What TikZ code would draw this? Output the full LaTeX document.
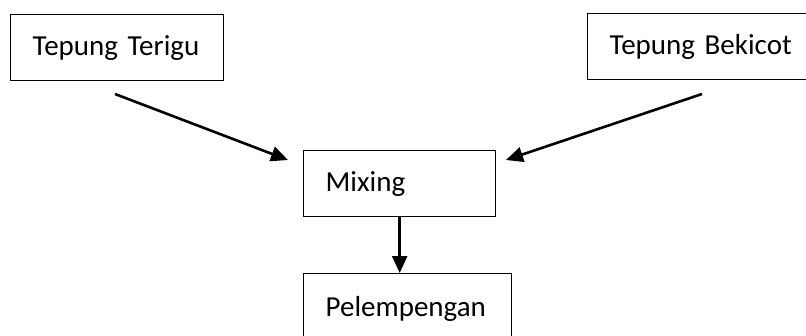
\documentclass[tikz,border=0pt]{standalone}
\usepackage{fontspec}
\setmainfont{Carlito}
\usetikzlibrary{arrows.meta}
\begin{document}
\begin{tikzpicture}[x=1pt,y=-1pt,
  procbox/.style={draw=black, line width=1.4pt, anchor=north west,
    inner xsep=22pt, inner ysep=0pt, align=left, font=\fontsize{29}{34}\selectfont},
  flow/.style={line width=2.6pt, -{Triangle[length=17pt,width=15pt]}}]
  \useasboundingbox (0,0) rectangle (806,335);
  % process boxes
  \node[procbox, minimum width=213pt, minimum height=66pt, text width=169pt] (terigu) at (10,14) {Tepung Terigu};
  \node[procbox, minimum width=240pt, minimum height=66pt, text width=196pt] (bekicot) at (587,13) {Tepung Bekicot};
  \node[procbox, minimum width=192pt, minimum height=66pt, text width=148pt] (mixing) at (303,150) {Mixing};
  \node[procbox, minimum width=208pt, minimum height=70pt, text width=164pt] (pelem) at (303,273) {Pelempengan};
  % connector end points
  \coordinate (a1) at (115,94);
  \coordinate (a1t) at (288,160);
  \coordinate (a2) at (702,94);
  \coordinate (a2t) at (506,160);
  \draw[flow] (a1) -- (a1t);
  \draw[flow] (a2) -- (a2t);
  \draw[flow] (mixing.south) -- (mixing.south |- pelem.north);
\end{tikzpicture}
\end{document}
